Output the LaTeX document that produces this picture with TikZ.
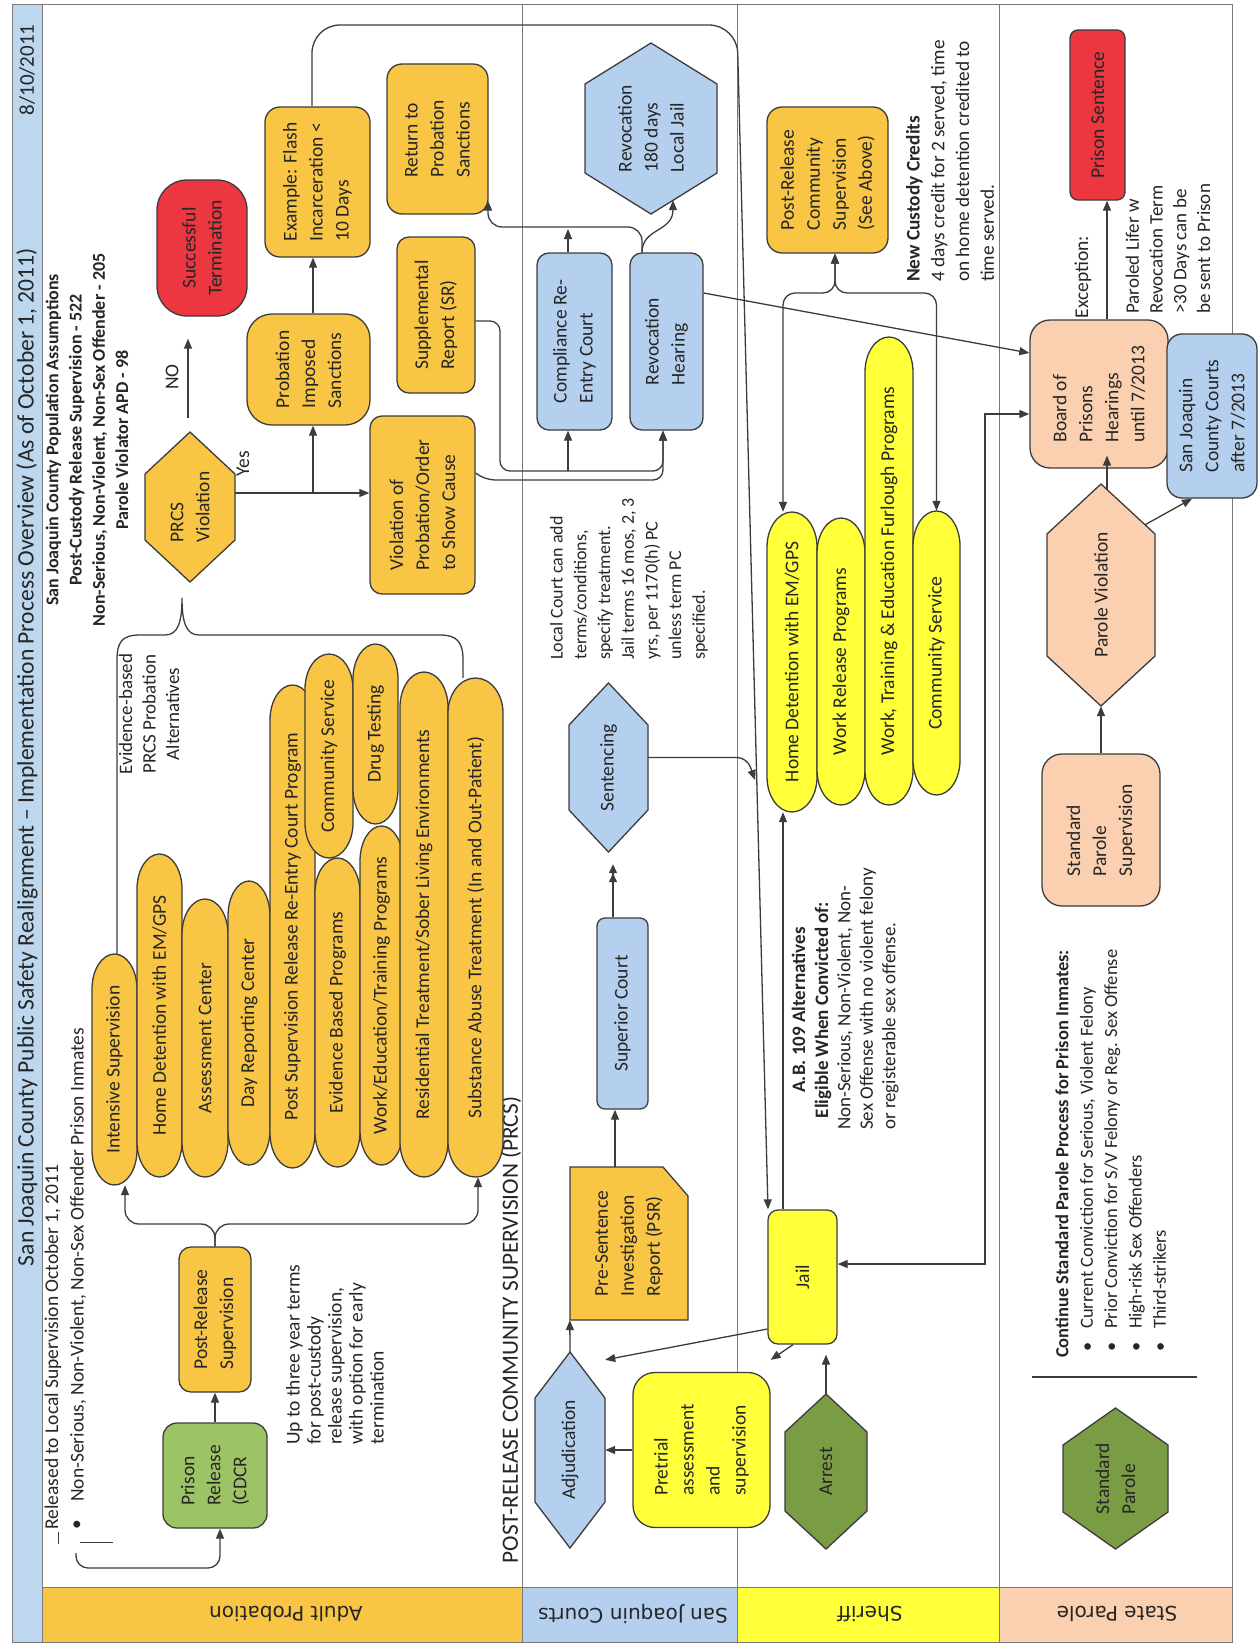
\documentclass[tikz,border=0pt]{standalone}
\usepackage{fontspec}
\setmainfont{Carlito}
\newfontfamily\lanefont{DejaVu Sans}
\usetikzlibrary{arrows.meta,calc}
\definecolor{orF}{HTML}{F9C545}
\definecolor{blF}{HTML}{B5D0EE}
\definecolor{yeF}{HTML}{FFFF3A}
\definecolor{peF}{HTML}{FAD0B0}
\definecolor{reF}{HTML}{EC3640}
\definecolor{grL}{HTML}{9CC466}
\definecolor{grD}{HTML}{7A9C45}
\definecolor{tiF}{HTML}{BDD7EE}
\definecolor{lc}{HTML}{3C3C3C}
\definecolor{tc}{HTML}{262626}
\definecolor{fc}{HTML}{7A7A7A}
\newcommand\pbar[7]{%
 \pgfmathsetmacro\pbxm{(#2+#3)/2}%
 \pgfmathsetmacro\pbka{0.552*(#3-#2)/2}%
 \pgfmathsetmacro\pbta{#4+35}%
 \pgfmathsetmacro\pbtb{#4+35-19.32}%
 \pgfmathsetmacro\pbba{#5-35}%
 \pgfmathsetmacro\pbbb{#5-35+19.32}%
 \pgfmathsetmacro\pbl{#5-#4}%
 \pgfmathsetmacro\pbw{#3-#2}%
 \pgfmathsetmacro\pbym{(#4+#5)/2}%
 \draw[shp, fill=#6] (#2,\pbta) .. controls (#2,\pbtb) and ({\pbxm-\pbka},#4) .. (\pbxm,#4) .. controls ({\pbxm+\pbka},#4) and (#3,\pbtb) .. (#3,\pbta) -- (#3,\pbba) .. controls (#3,\pbbb) and ({\pbxm+\pbka},#5) .. (\pbxm,#5) .. controls ({\pbxm-\pbka},#5) and (#2,\pbbb) .. (#2,\pbba) -- cycle;%
 \node[txt, align=center, minimum width=\pbl pt, minimum height=\pbw pt] (#1) at (\pbxm,\pbym) {#7};%
}
\newcommand\hexv[8]{%
 \pgfmathsetmacro\hxm{(#2+#3)/2}%
 \pgfmathsetmacro\hym{(#4+#5)/2}%
 \pgfmathsetmacro\hw{#3-#2}%
 \pgfmathsetmacro\hh{#5-#4}%
 \draw[shp, fill=#7] (\hxm,#4) -- (#3,{#4+#6}) -- (#3,{#5-#6}) -- (\hxm,#5) -- (#2,{#5-#6}) -- (#2,{#4+#6}) -- cycle;%
 \node[txt, minimum width=\hh pt, minimum height=\hw pt] (#1) at (\hxm,\hym) {#8};%
}
\begin{document}
\begin{tikzpicture}[x=1pt, y=-1pt,
 shp/.style={draw=lc, line width=1.3pt},
 txt/.style={rotate=90, inner sep=0pt, align=left, text=tc, font=\fontsize{19.5}{26}\selectfont},
 rbox/.style={txt, shp, rounded corners=12pt},
 conn/.style={draw=lc, line width=1.3pt},
 arr/.style={conn, -{Triangle[length=10pt,width=8pt]}},
 arrboth/.style={conn, {Triangle[length=10pt,width=8pt]}-{Triangle[length=10pt,width=8pt]}},
 arr2/.style={conn, -{Triangle[length=9pt,width=8pt]Triangle[length=9pt,width=8pt]}},
 frm/.style={draw=fc, line width=1pt},
 lane/.style={rotate=180, inner sep=0pt, text=tc, font=\lanefont\fontsize{20}{22}\selectfont}]
\fill[white] (0,0) rectangle (1259,1646);
\useasboundingbox (0,0) rectangle (1259,1646);
% ---------- frame, title band, lanes
\fill[tiF] (12,5) rectangle (42,1642);
\fill[orF] (42,1587) rectangle (522,1642);
\fill[blF] (522,1587) rectangle (737,1642);
\fill[yeF] (737,1587) rectangle (999,1642);
\fill[peF] (999,1587) rectangle (1232,1642);
\draw[frm] (12,5) rectangle (1232,1642);
\draw[frm] (42,5) -- (42,1642);
\draw[frm] (42,1587) -- (1232,1587);
\draw[frm] (522,5) -- (522,1642);
\draw[frm] (737,5) -- (737,1642);
\draw[frm] (999,5) -- (999,1642);
\node[lane] (lab1) at (286,1614) {Adult Probation};
\node[lane] (lab2) at (633,1614) {San Joaquin Courts};
\node[lane] (lab3) at (870,1614) {Sheriff};
\node[lane] (lab4) at (1117,1614) {State Parole};
\node[txt, font=\fontsize{23.6}{28}\selectfont] (title) at (27,757) {San Joaquin County Public Safety Realignment – Implementation Process Overview (As of October 1, 2011)};
\node[txt, font=\fontsize{21}{26}\selectfont] (date) at (27,70) {8/10/2011};
% ---------- header texts
\node[txt, align=center, font=\fontsize{18}{23.3}\selectfont\bfseries] (pop) at (87,440) {San Joaquin County Population Assumptions\\Post-Custody Release Supervision - 522\\Non-Serious, Non-Violent, Non-Sex Offender - 205\\Parole Violator APD - 98};
\node[txt, anchor=west] (rel1) at (53,1530) {Released to Local Supervision October 1, 2011};
\node[txt] (bul0) at (78,1525) {\textbullet};
\node[txt, anchor=west] (rel2) at (78,1502) {Non-Serious, Non-Violent, Non-Sex Offender Prison Inmates};
\draw[conn, line width=1pt] (58,1532) -- (58,1544);
\draw[conn, line width=1pt] (80,1542) -- (113,1542);
\node[txt, anchor=west, font=\fontsize{19.5}{21}\selectfont] (upto) at (335,1445) {Up to three year terms\\for post-custody\\release supervision,\\with option for early\\termination};
\node[txt, align=center, font=\fontsize{19}{23.5}\selectfont] (evb) at (149,714) {Evidence-based\\PRCS Probation\\Alternatives};
\node[txt] (yes) at (243,464) {Yes};
\node[txt] (no) at (172,377) {NO};
\node[txt, anchor=west, font=\fontsize{18}{23.7}\selectfont] (lcourt) at (629,660) {Local Court can add\\terms/conditions,\\specify treatment.\\Jail terms 16 mos, 2, 3\\yrs, per 1170(h) PC\\unless term PC\\specified.};
\node[txt, font=\fontsize{23.3}{28}\selectfont] (prcslab) at (511,1330) {POST-RELEASE COMMUNITY SUPERVISION (PRCS)};
\node[txt, align=center, font=\fontsize{19}{23}\selectfont\bfseries] (ab1) at (811.5,1010) {A.B. 109 Alternatives\\Eligible When Convicted of:};
\node[txt, anchor=west, font=\fontsize{19}{22.5}\selectfont] (ab2) at (868,1130) {Non-Serious, Non-Violent, Non-\\Sex Offense with no violent felony\\or registerable sex offense.};
\node[txt, anchor=west, font=\fontsize{19.3}{24.7}\selectfont] (ncc) at (950,282) {\textbf{New Custody Credits}\\4 days credit for 2 served, time\\on home detention credited to\\time served.};
\node[txt] (exc) at (1083,277) {Exception:};
\node[txt, anchor=west, font=\fontsize{19}{23.7}\selectfont] (lifer) at (1168,314) {Paroled Lifer w\\Revocation Term\\>30 Days can be\\be sent to Prison};
\node[txt, anchor=west, font=\fontsize{18.5}{20}\selectfont\bfseries] (cont) at (1062,1358) {Continue Standard Parole Process for Prison Inmates:};
\node[txt, anchor=west, font=\fontsize{18.5}{24.3}\selectfont] (contl) at (1123,1352) {\makebox[23pt][l]{\textbullet}Current Conviction for Serious, Violent Felony\\\makebox[23pt][l]{\textbullet}Prior Conviction for S/V Felony or Reg. Sex Offense\\\makebox[23pt][l]{\textbullet}High-risk Sex Offenders\\\makebox[23pt][l]{\textbullet}Third-strikers};
\draw[conn, line width=1.2pt] (1032,1377) -- (1197,1377);
% ---------- Adult probation boxes
\node[rbox, fill=grL, rounded corners=14pt, minimum width=105pt, minimum height=104pt] (pr) at (215,1475.5) {Prison\\Release\\(CDCR};
\node[rbox, fill=orF, minimum width=145pt, minimum height=72pt] (prs) at (215,1319.5) {Post-Release\\Supervision};
\node[rbox, fill=reF, align=center, rounded corners=30pt, minimum width=136pt, minimum height=90pt] (succ) at (202,248) {Successful\\Termination};
\node[rbox, fill=orF, rounded corners=25pt, minimum width=111pt, minimum height=123pt] (pis) at (308.5,369.5) {Probation\\Imposed\\Sanctions};
\node[rbox, fill=orF, rounded corners=15pt, minimum width=150pt, minimum height=105pt] (ex) at (317.5,182) {Example: Flash\\Incarceration <\\10 Days};
\node[rbox, fill=orF, rounded corners=15pt, minimum width=150pt, minimum height=101pt] (ret) at (437.5,139) {Return to\\Probation\\Sanctions};
\node[rbox, fill=orF, minimum width=156pt, minimum height=78pt] (sr) at (436,315) {Supplemental\\Report (SR)};
\node[rbox, fill=orF, minimum width=178pt, minimum height=105pt] (vop) at (422.5,505) {Violation of\\Probation/Order\\to Show Cause};
\hexv{prcs}{145}{235}{432}{582}{42}{orF}{PRCS\\Violation}
% program bars
\pbar{b1}{92}{137}{954}{1185}{orF}{Intensive Supervision}
\pbar{b2}{137}{182}{854}{1177}{orF}{Home Detention with EM/GPS}
\pbar{b3}{182}{228}{899}{1177}{orF}{Assessment Center}
\pbar{b4}{228}{270}{881}{1165}{orF}{Day Reporting Center}
\pbar{b5}{270}{315}{685}{1168}{orF}{Post Supervision Release Re-Entry Court Program}
\pbar{b6}{305}{353}{654}{858}{orF}{Community Service}
\pbar{b7}{353}{398}{644}{824}{orF}{Drug Testing}
\pbar{b8}{315}{360}{858}{1167}{orF}{Evidence Based Programs}
\pbar{b9}{360}{403}{826}{1165}{orF}{Work/Education/Training Programs}
\pbar{b10}{400}{448}{672}{1177}{orF}{Residential Treatment/Sober Living Environments}
\pbar{b11}{448}{503}{678}{1177}{orF}{Substance Abuse Treatment (In and Out-Patient)}
% ---------- Courts boxes
\node[rbox, fill=blF, minimum width=177pt, minimum height=75pt] (cre) at (574.5,341.5) {Compliance Re-\\Entry Court};
\node[rbox, fill=blF, minimum width=177pt, minimum height=73pt] (rh) at (666.5,341.5) {Revocation\\Hearing};
\hexv{revhex}{585}{717}{43}{214}{41}{blF}{Revocation\\180 days\\Local Jail}
\hexv{sent}{569}{648}{683}{852}{42}{blF}{Sentencing}
\node[rbox, fill=blF, rounded corners=8pt, minimum width=191pt, minimum height=51pt] (sup) at (622.5,1013.5) {Superior Court};
\draw[shp, fill=orF] (570,1167) -- (663,1167) -- (688,1196) -- (688,1320) -- (570,1320) -- cycle;
\node[txt, minimum width=153pt, minimum height=118pt] (psr) at (629,1243.5) {Pre-Sentence\\Investigation\\Report (PSR)};
\hexv{adj}{535}{605}{1352}{1548}{46}{blF}{Adjudication}
% ---------- Sheriff
\node[rbox, fill=orF, rounded corners=15pt, minimum width=146pt, minimum height=121pt] (pcs) at (827.5,180) {Post-Release\\Community\\Supervision\\(See Above)};
\pbar{hd}{767}{817}{512}{812}{yeF}{Home Detention with EM/GPS}
\pbar{wr}{817}{865}{518}{805}{yeF}{Work Release Programs}
\pbar{wte}{865}{913}{337}{805}{yeF}{Work, Training \& Education Furlough Programs}
\pbar{cs2}{913}{960}{511}{795}{yeF}{Community Service}
\node[rbox, fill=yeF, rounded corners=10pt, minimum width=134pt, minimum height=69pt] (jail) at (802.5,1277) {Jail};
\node[rbox, fill=yeF, rounded corners=22pt, minimum width=155pt, minimum height=137pt] (pre) at (701.5,1450) {Pretrial\\assessment\\and\\supervision};
\hexv{arrest}{785}{867}{1394}{1549}{38}{grD}{Arrest}
% ---------- State parole
\node[rbox, fill=peF, rounded corners=20pt, minimum width=148pt, minimum height=138pt] (board) at (1099,394) {Board of\\Prisons\\Hearings\\until 7/2013};
\node[rbox, fill=reF, rounded corners=8pt, minimum width=170pt, minimum height=55pt] (ps) at (1097.5,115) {Prison Sentence};
\node[rbox, fill=blF, rounded corners=15pt, minimum width=164pt, minimum height=90pt] (sjc) at (1212,416) {San Joaquin\\County Courts\\after 7/2013};
\hexv{pv}{1047}{1155}{484}{706}{50}{peF}{Parole Violation}
\node[rbox, fill=peF, rounded corners=20pt, minimum width=152pt, minimum height=118pt] (sps) at (1101,830) {Standard\\Parole\\Supervision};
\hexv{stdp}{1063}{1168}{1408}{1549}{37}{grD}{Standard\\Parole}
% ---------- connectors
\coordinate (relstart) at (76,1553);
\draw[arr, rounded corners=12pt] (relstart) -- (76,1568) -- (220,1568) -- ([xshift=5pt]pr.west);
\draw[arr] (pr.east) -- (prs.west);
\draw[arr, rounded corners=14pt] (prs.east) -- (215,1224) -- (125,1224) -- ([xshift=10.5pt]b1.west);
\draw[arr, rounded corners=14pt] (prs.east) -- (215,1224) -- (478,1224) -- ([xshift=2.5pt]b11.west);
\draw[conn] ([xshift=2.5pt]b1.east) -- (117,660) .. controls (117,642) and (122,635) .. (140,635) -- (165,635) .. controls (178,635) and (182,622) .. (182,598) .. controls (182,622) and (186,635) .. (199,635) -- (440,635) .. controls (457,635) and (463,642) .. (463,660) -- ([xshift=-12.5pt]b11.east);
\draw[arr] ([yshift=14pt]prcs.south) -- ([yshift=12pt]vop.north);
\coordinate (jn1) at (313,493);
\draw[arr] (jn1) -- ([xshift=4.5pt]pis.west);
\draw[arr, shorten <=14pt, shorten >=22pt] ([xshift=-2pt]prcs.east) -- ([xshift=-14pt]succ.west);
\draw[arr] ([xshift=4.5pt]pis.east) -- ([xshift=-4.5pt]ex.west);
\draw[arr, rounded corners=28pt] ([xshift=-5.5pt]ex.east) -- (312,25) -- (737,25) -- ([xshift=-34.5pt]jail.east);
\coordinate (sentend) at (755,780);
\draw[arr, rounded corners=10pt] ([yshift=10pt]sent.south) -- (747,757.5) -- (sentend);
\draw[arr2, shorten >=12pt] ([xshift=-9.5pt]sup.east) -- ([xshift=4.5pt]sent.west);
\draw[arr] ([xshift=-14pt]psr.east) -- ([xshift=-7.5pt]sup.west);
\draw[arr] (adj.east) -- (psr.north west);
\draw[arr] (pre.north) -- (adj.south);
\draw[arr] ([yshift=-52pt]jail.north) -- ([yshift=-8pt]adj.south east);
\draw[arr] ([xshift=-9.5pt]jail.west) -- ([yshift=12pt]pre.south east);
\draw[arr, shorten >=10pt] (arrest.east) -- ([xshift=23.5pt]jail.west);
\draw[arr] ([xshift=-19.5pt]jail.east) -- ([xshift=-9pt]hd.west);
\draw[arrboth] ([yshift=13pt]jail.south) -- (985,1264) -- (985,414) -- ([yshift=-20pt]board.north);
\draw[arr] ([yshift=48.5pt]rh.south) -- ([yshift=41pt]board.north);
\draw[arr] ([xshift=8pt]board.east) -- ([xshift=9.5pt]ps.west);
\draw[arr] ([xshift=6pt,yshift=-6pt]pv.east) -- ([xshift=8pt,yshift=13pt]board.west);
\draw[arr] ([xshift=44pt,yshift=-41pt]pv.east) -- ([xshift=-20pt]sjc.west);
\draw[arr] (sps.east) -- (pv.west);
\coordinate (creend) at (568,229);
\draw[arr] ([xshift=-6.5pt]cre.east) -- (creend);
\draw[arr, rounded corners=14pt] ([xshift=-24.5pt]rh.east) -- (642,227) -- (488,227) -- ([xshift=50.5pt,yshift=14pt]ret.west);
\draw[arr] ([xshift=-24.5pt]rh.east) .. controls (642,228) and (673,232) .. ([xshift=22pt,yshift=14pt]revhex.west);
\draw[arr, rounded corners=10pt] ([yshift=-6pt]sr.south) -- (500,321) -- (500,471) -- (663,471) -- ([xshift=-3.5pt]rh.west);
\coordinate (jn2) at (568,471);
\draw[arr] (jn2) -- ([xshift=-6.5pt]cre.west);
\draw[arr, rounded corners=10pt] ([yshift=32pt]vop.south) -- (485,480) -- (663,480) -- ([xshift=-3.5pt]rh.west);
\draw[arrboth, rounded corners=12pt] ([xshift=-9pt]hd.east) -- (783,293) -- (835,293) -- ([xshift=7.5pt]pcs.west);
\draw[arrboth, rounded corners=12pt] (cs2.east) -- (936.5,293) -- (835,293) -- ([xshift=7.5pt]pcs.west);
\end{tikzpicture}
\end{document}
